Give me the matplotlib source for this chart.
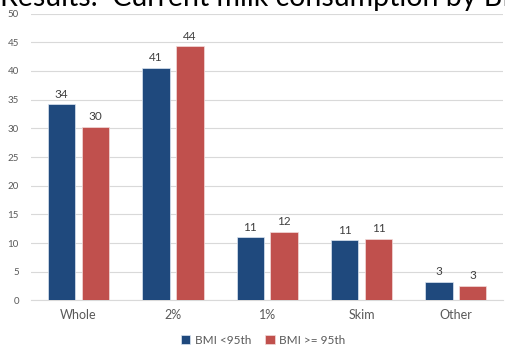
import matplotlib
matplotlib.use("Agg")
import matplotlib.pyplot as plt
import numpy as np

# Milk consumption (%) by BMI group
categories = ["Whole", "2%", "1%", "Skim", "Other"]
series_names = ["BMI <95th", "BMI >= 95th"]
bmi_below = [34.2, 40.6, 11.1, 10.6, 3.3]
bmi_above = [30.3, 44.3, 12.0, 10.8, 2.6]
yticks = [0, 5, 10, 15, 20, 25, 30, 35, 40, 45, 50]

blue = "#1f497d"
red = "#c0504d"
gray = "#595959"

plt.rcParams["font.family"] = ["Lato", "DejaVu Sans"]

fig = plt.figure(figsize=(5.06, 3.49), dpi=100)
ax = fig.add_axes([0.062, 0.139, 0.932, 0.822])

x = np.arange(len(categories))
width = 0.29
gap = 0.07
off = (width + gap) / 2

b1 = ax.bar(x - off, bmi_below, width, color=blue, edgecolor="#dce6f2",
            linewidth=0.5, label=series_names[0], zorder=3)
b2 = ax.bar(x + off, bmi_above, width, color=red, edgecolor="#f2dcdb",
            linewidth=0.5, label=series_names[1], zorder=3)

for bars, vals in ((b1, bmi_below), (b2, bmi_above)):
    for rect, v in zip(bars, vals):
        ax.annotate(f"{v:.0f}", (rect.get_x() + rect.get_width() / 2, v),
                    xytext=(0, 3), textcoords="offset points",
                    ha="center", va="bottom", fontsize=8.5, color="#404040")

ax.set_xlim(-0.5, len(categories) - 0.5)
ax.set_ylim(0, 50)
ax.set_yticks(yticks)
ax.set_xticks(x)
ax.set_xticklabels(categories)
ax.tick_params(axis="y", length=0, labelsize=7, labelcolor=gray, pad=9)
ax.tick_params(axis="x", length=0, labelsize=9, labelcolor=gray, pad=6)
ax.yaxis.grid(True, color="#d9d9d9", linewidth=0.8, zorder=0)
for s in ["top", "right", "left"]:
    ax.spines[s].set_visible(False)
ax.spines["bottom"].set_color("#d9d9d9")
ax.spines["bottom"].set_linewidth(0.8)

leg = fig.legend(handles=[b1, b2], loc="center", bbox_to_anchor=(0.52, 0.025),
                 ncol=2, frameon=False, fontsize=8.5, handlelength=0.8,
                 handleheight=0.8, handletextpad=0.4, columnspacing=1.2)
for t in leg.get_texts():
    t.set_color(gray)

# slide title, clipped at the top edge
fig.text(0.0, 0.984, "Results:  Current milk consumption by BMI",
         fontsize=20.5, va="baseline", ha="left", color="black")

fig.savefig("out.png", dpi=100)
